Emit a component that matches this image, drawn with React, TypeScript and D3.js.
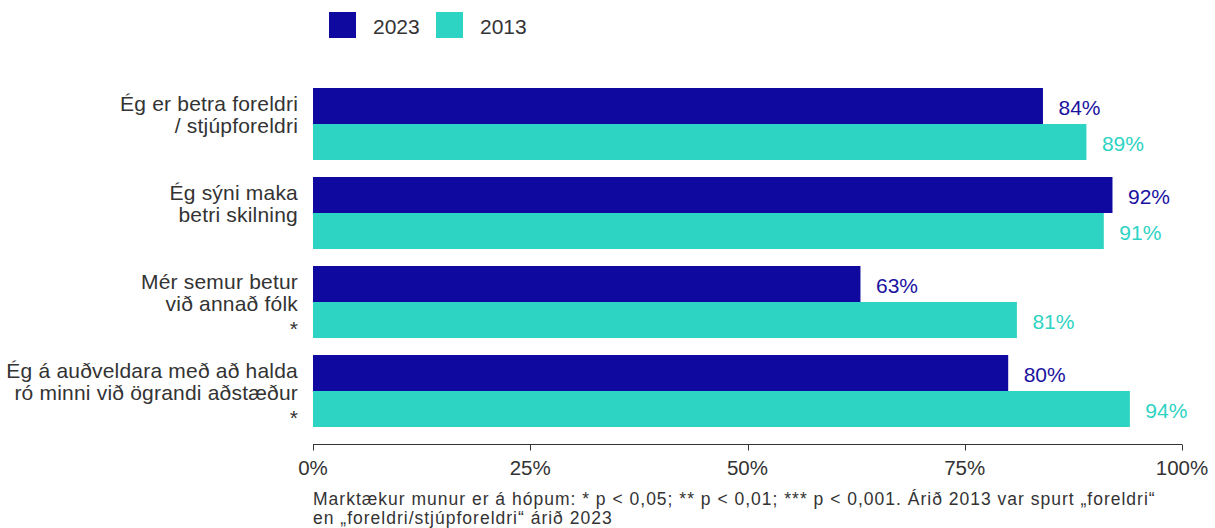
import React from "react";
import * as d3 from "d3";

const categories: string[][] = [
  ["Ég er betra foreldri", "/ stjúpforeldri", ""],
  ["Ég sýni maka", "betri skilning", ""],
  ["Mér semur betur", "við annað fólk", "*"],
  ["Ég á auðveldara með að halda", "ró minni við ögrandi aðstæður", "*"],
];
const series = ["2023", "2013"];
const values2023 = [84, 92, 63, 80];
const values2013 = [89, 91, 81, 94];
const ticks = [0, 25, 50, 75, 100];
const footnote = [
  "Marktækur munur er á hópum: * p < 0,05; ** p < 0,01; *** p < 0,001. Árið 2013 var spurt „foreldri“",
  "en „foreldri/stjúpforeldri“ árið 2023",
];

const colors = ["#10099f", "#2dd3c3"];
const labelColors = ["#1a129f", "#2dd3c3"];
const textColor = "#333333";
const font = "'Liberation Sans', Arial, sans-serif";

export default function App() {
  const W = 1215, H = 528;
  const x = d3.scaleLinear().domain([0, 100]).range([313, 1182]);
  const y = d3
    .scaleBand<number>()
    .domain(categories.map((_, i) => i))
    .range([79.5, 435.5])
    .paddingInner(17 / 89)
    .paddingOuter(0.5 * (17 / 89));
  const sub = d3.scaleBand<number>().domain([0, 1]).range([0, y.bandwidth()]);
  const data = [values2023, values2013];
  const axisY = 444.5;

  return (
    <svg width={W} height={H} style={{ position: "absolute", left: 0, top: 0, fontFamily: font }}>
      {/* legend */}
      {series.map((s, i) => (
        <g key={s} transform={`translate(${329 + i * 107},12)`}>
          <rect width={27} height={26} fill={colors[i]} />
          <text x={44} y={14} dominantBaseline="central" fontSize={21} fill={textColor}>
            {s}
          </text>
        </g>
      ))}
      {/* bars */}
      {categories.map((c, ci) => (
        <g key={ci}>
          {data.map((vals, si) => {
            const y0 = (y(ci) as number) + (sub(si) as number);
            return (
              <g key={si}>
                <rect x={x(0)} y={y0} width={x(vals[ci]) - x(0)} height={sub.bandwidth()} fill={colors[si]} />
                <text
                  x={x(vals[ci]) + 15.5}
                  y={y0 + sub.bandwidth() / 2 + 1}
                  dominantBaseline="central"
                  fontSize={21}
                  fill={labelColors[si]}
                >
                  {vals[ci]}%
                </text>
              </g>
            );
          })}
          {c.map((line, li) => (
            <text
              key={li}
              x={298}
              y={(y(ci) as number) + y.bandwidth() / 2 + (li - 1) * 22 + 1 + (li === 2 ? 3 : 0)}
              dominantBaseline="central"
              textAnchor="end"
              fontSize={21}
              letterSpacing={0.2}
              fill={textColor}
            >
              {line}
            </text>
          ))}
        </g>
      ))}
      {/* axis */}
      <line x1={x(0)} x2={x(100)} y1={axisY} y2={axisY} stroke={textColor} strokeWidth={1} />
      {ticks.map((t) => (
        <g key={t}>
          <line x1={Math.round(x(t)) + 0.5} x2={Math.round(x(t)) + 0.5} y1={axisY} y2={axisY + 6} stroke={textColor} />
          <text x={x(t)} y={467} dominantBaseline="central" textAnchor="middle" fontSize={20.5} fill={textColor}>
            {t}%
          </text>
        </g>
      ))}
      {/* footnote */}
      {footnote.map((f, i) => (
        <text key={i} x={313} y={499 + i * 19} dominantBaseline="central" fontSize={17.5} letterSpacing={1.0} fill={textColor}>
          {f}
        </text>
      ))}
    </svg>
  );
}
